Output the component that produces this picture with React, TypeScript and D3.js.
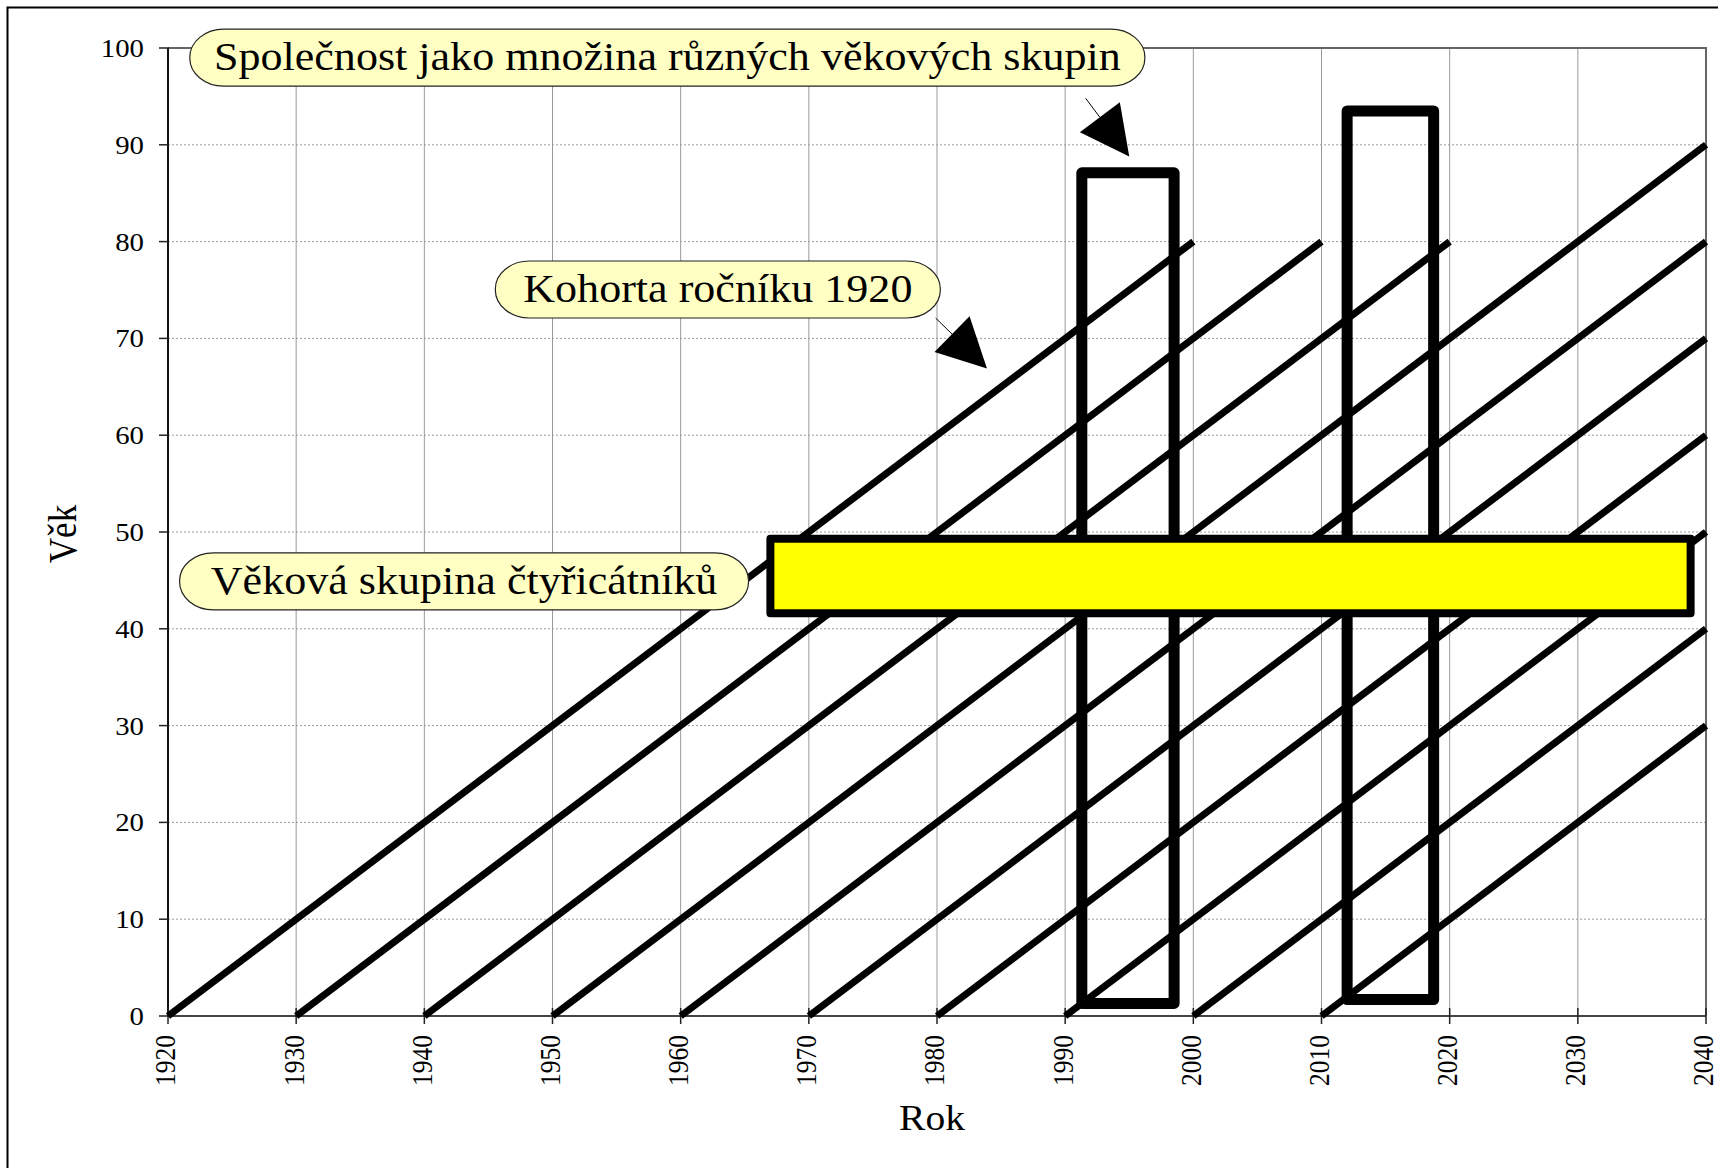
import React, { useRef, useEffect } from "react";
import * as d3 from "d3";

// cohort lines: birth year, age at which the line ends
const birthYears = [1920, 1930, 1940, 1950, 1960, 1970, 1980, 1990, 2000, 2010];
const endAges = [80, 80, 80, 90, 80, 70, 60, 50, 40, 30];

const yearTicks = [1920, 1930, 1940, 1950, 1960, 1970, 1980, 1990, 2000, 2010, 2020, 2030, 2040];
const ageTicks = [0, 10, 20, 30, 40, 50, 60, 70, 80, 90, 100];

// cross-sections of the society (period boxes)
const periodFrom = [1991.3, 2012.0];
const periodTo = [1998.5, 2018.75];
const periodAgeFrom = [1.3, 1.7];
const periodAgeTo = [87.1, 93.5];

// age group band
const bandYears = [1967, 2038.8];
const bandAges = [41.6, 49.3];

// callouts: text, center (year, age), box width
const calloutTexts = [
  "Společnost jako množina různých věkových skupin",
  "Kohorta ročníku 1920",
  "Věková skupina čtyřicátníků",
];
const calloutYears = [1958.96, 1962.9, 1943.1];
const calloutAges = [99.0, 75.05, 44.9];
const calloutWidths = [955, 445, 569];

// arrows: tail and tip (year, age)
const arrowTail = [[1991.6, 94.8], [1979.9, 72.1]];
const arrowTip = [[1995.0, 88.8], [1983.9, 66.9]];

const W = 1718;
const H = 1168;
const SX = 1.13; // glyphs in the original are slightly wide
const FONT = "'Liberation Serif', 'Times New Roman', serif";

const App = () => {
  const svgRef = useRef(null);

  useEffect(() => {
    const svg = d3.select(svgRef.current);
    svg.selectAll("*").remove();

    const x = d3.scaleLinear().domain([1920, 2040]).range([168, 1706]);
    const y = d3.scaleLinear().domain([0, 100]).range([1016, 48]);

    svg.append("rect").attr("width", W).attr("height", H).attr("fill", "#fff");
    // outer frame
    svg
      .append("rect")
      .attr("x", 7.5)
      .attr("y", 7.5)
      .attr("width", W + 20)
      .attr("height", H + 20)
      .attr("fill", "none")
      .attr("stroke", "#000")
      .attr("stroke-width", 2);

    const g = svg.append("g");

    // grid
    g.selectAll(".vgrid")
      .data(yearTicks.slice(1, -1))
      .enter()
      .append("line")
      .attr("x1", (d) => x(d))
      .attr("x2", (d) => x(d))
      .attr("y1", y(100))
      .attr("y2", y(0))
      .attr("stroke", "#9a9a9a")
      .attr("stroke-width", 1);
    g.selectAll(".hgrid")
      .data(ageTicks.slice(1, -1))
      .enter()
      .append("line")
      .attr("x1", x(1920))
      .attr("x2", x(2040))
      .attr("y1", (d) => y(d))
      .attr("y2", (d) => y(d))
      .attr("stroke", "#9a9a9a")
      .attr("stroke-width", 1)
      .attr("stroke-dasharray", "2,2");
    // plot area top/right border
    g.append("path")
      .attr("d", `M${x(1920)},${y(100)}H${x(2040)}V${y(0)}`)
      .attr("fill", "none")
      .attr("stroke", "#666")
      .attr("stroke-width", 2);

    // axes
    g.append("line")
      .attr("x1", x(1920))
      .attr("x2", x(2040))
      .attr("y1", y(0))
      .attr("y2", y(0))
      .attr("stroke", "#444")
      .attr("stroke-width", 2);
    g.append("line")
      .attr("x1", x(1920))
      .attr("x2", x(1920))
      .attr("y1", y(0))
      .attr("y2", y(100))
      .attr("stroke", "#111")
      .attr("stroke-width", 2);
    g.selectAll(".xtick")
      .data(yearTicks)
      .enter()
      .append("line")
      .attr("x1", (d) => x(d))
      .attr("x2", (d) => x(d))
      .attr("y1", y(0) - 8)
      .attr("y2", y(0) + 8)
      .attr("stroke", "#222")
      .attr("stroke-width", 1.5);
    g.selectAll(".ytick")
      .data(ageTicks)
      .enter()
      .append("line")
      .attr("x1", x(1920) - 9)
      .attr("x2", x(1920) + 1)
      .attr("y1", (d) => y(d))
      .attr("y2", (d) => y(d))
      .attr("stroke", "#222")
      .attr("stroke-width", 1.5);

    // tick labels
    g.selectAll(".ylab")
      .data(ageTicks)
      .enter()
      .append("text")
      .attr("transform", (d) => `translate(${x(1920) - 24},${y(d)}) scale(${SX},1)`)
      .attr("dy", "0.35em")
      .attr("text-anchor", "end")
      .attr("font-family", FONT)
      .attr("font-size", 25.5)
      .text((d) => d);
    g.selectAll(".xlab")
      .data(yearTicks)
      .enter()
      .append("text")
      .attr("transform", (d) => `translate(${x(d)},${y(0) + 19}) scale(${SX},1) rotate(-90)`)
      .attr("dy", 6.5)
      .attr("text-anchor", "end")
      .attr("font-family", FONT)
      .attr("font-size", 25.5)
      .text((d) => d);

    // axis titles
    g.append("text")
      .attr("transform", `translate(${(x(1920) + x(2040)) / 2 - 5},1130) scale(${SX},1)`)
      .attr("text-anchor", "middle")
      .attr("font-family", FONT)
      .attr("font-size", 35)
      .text("Rok");
    g.append("text")
      .attr("transform", `translate(76,${(y(0) + y(100)) / 2 + 2}) scale(${SX},1) rotate(-90)`)
      .attr("text-anchor", "middle")
      .attr("font-family", FONT)
      .attr("font-size", 35)
      .text("Věk");

    // cohort lines
    g.selectAll(".cohort")
      .data(birthYears)
      .enter()
      .append("line")
      .attr("x1", (d) => x(d))
      .attr("y1", y(0))
      .attr("x2", (d, i) => x(d + endAges[i]))
      .attr("y2", (d, i) => y(endAges[i]))
      .attr("stroke", "#000")
      .attr("stroke-width", 7);

    // period boxes
    g.selectAll(".period")
      .data(periodFrom)
      .enter()
      .append("rect")
      .attr("x", (d) => x(d))
      .attr("width", (d, i) => x(periodTo[i]) - x(d))
      .attr("y", (d, i) => y(periodAgeTo[i]))
      .attr("height", (d, i) => y(periodAgeFrom[i]) - y(periodAgeTo[i]))
      .attr("fill", "none")
      .attr("stroke", "#000")
      .attr("stroke-width", 11)
      .attr("stroke-linejoin", "round");

    // age band
    g.append("rect")
      .attr("x", x(bandYears[0]))
      .attr("width", x(bandYears[1]) - x(bandYears[0]))
      .attr("y", y(bandAges[1]))
      .attr("height", y(bandAges[0]) - y(bandAges[1]))
      .attr("fill", "#ffff00")
      .attr("stroke", "#000")
      .attr("stroke-width", 8)
      .attr("stroke-linejoin", "round");

    // arrows
    arrowTail.forEach((t, i) => {
      const tx = x(t[0]);
      const ty = y(t[1]);
      const px = x(arrowTip[i][0]);
      const py = y(arrowTip[i][1]);
      const len = Math.hypot(px - tx, py - ty);
      const ux = (px - tx) / len;
      const uy = (py - ty) / len;
      const headL = 49;
      const headW = 25;
      const bx = px - ux * headL;
      const by = py - uy * headL;
      g.append("line")
        .attr("x1", tx)
        .attr("y1", ty)
        .attr("x2", bx)
        .attr("y2", by)
        .attr("stroke", "#000")
        .attr("stroke-width", 1);
      g.append("path")
        .attr(
          "d",
          `M${px},${py}L${bx - uy * headW},${by + ux * headW}L${bx + uy * headW},${by - ux * headW}Z`
        )
        .attr("fill", "#000");
    });

    // callouts
    calloutTexts.forEach((txt, i) => {
      const cx = x(calloutYears[i]);
      const cy = y(calloutAges[i]);
      const w = calloutWidths[i];
      const h = 57;
      g.append("rect")
        .attr("x", cx - w / 2)
        .attr("y", cy - h / 2)
        .attr("width", w)
        .attr("height", h)
        .attr("rx", 34)
        .attr("ry", 28)
        .attr("fill", "#ffffc4")
        .attr("stroke", "#222")
        .attr("stroke-width", 1.2);
      g.append("text")
        .attr("transform", `translate(${cx},${cy + 12.5}) scale(${SX},1)`)
        .attr("text-anchor", "middle")
        .attr("font-family", FONT)
        .attr("font-size", 39)
        .attr("fill", "#000")
        .text(txt);
    });
  }, []);

  return (
    <svg
      ref={svgRef}
      width={W}
      height={H}
      style={{ position: "absolute", left: 0, top: 0, display: "block" }}
    ></svg>
  );
};

export default App;
